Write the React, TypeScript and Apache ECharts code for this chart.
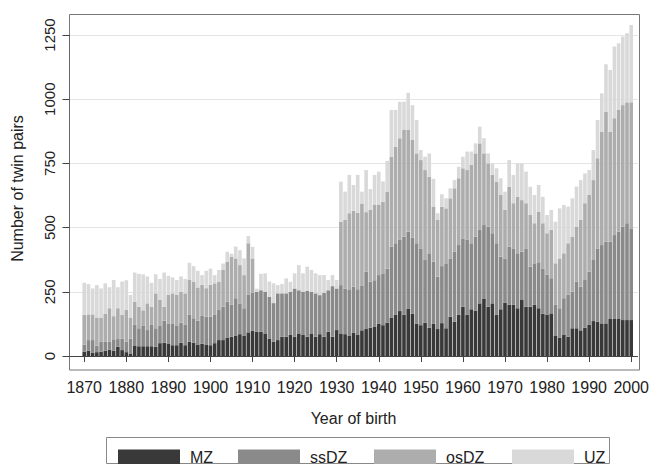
import React, { useEffect, useRef } from "react";
import * as echarts from "echarts";

const firstYear = 1870;
const lastYear = 2000;
const padBefore = 3;
const padAfter = 1;
const tickYears = [1870, 1880, 1890, 1900, 1910, 1920, 1930, 1940, 1950, 1960, 1970, 1980, 1990, 2000];
const yTicks = [0, 250, 500, 750, 1000, 1250];
const seriesNames = ["MZ", "ssDZ", "osDZ", "UZ"];
const seriesColors = ["#393939", "#8a8a8a", "#adadad", "#d9d9d9"];

const mz = [
  17, 20, 12, 15, 17, 20, 25, 20, 36, 23,
  15, 10, 39, 38, 38, 38, 38, 36, 50, 52,
  49, 42, 42, 52, 42, 55, 52, 45, 48, 45,
  42, 50, 62, 62, 72, 75, 80, 85, 78, 92,
  98, 95, 95, 88, 68, 56, 62, 75, 75, 82,
  75, 88, 82, 75, 88, 75, 85, 75, 95, 75,
  101, 88, 85, 78, 90, 82, 100, 105, 110, 115,
  125, 120, 130, 150, 160, 175, 160, 185, 165, 125,
  120, 130, 110, 125, 105, 128, 108, 153, 134, 160,
  192, 160, 182, 177, 205, 224, 192, 205, 160, 182,
  208, 199, 199, 186, 218, 192, 192, 199, 186, 165,
  160, 166, 78, 72, 84, 75, 108, 108, 100, 110,
  121, 136, 134, 127, 127, 144, 144, 144, 140, 140,
  140,
];

const ssdz = [
  28, 42, 50, 25, 38, 35, 30, 45, 30, 45,
  40, 58, 82, 70, 79, 63, 83, 72, 67, 86,
  78, 85, 75, 78, 79, 105, 95, 93, 108, 108,
  111, 110, 117, 130, 140, 124, 145, 120, 108, 146,
  149, 155, 161, 162, 163, 150, 182, 169, 169, 168,
  188, 168, 168, 178, 162, 169, 152, 171, 161, 197,
  162, 188, 178, 179, 180, 178, 175, 223, 180, 180,
  190, 202, 210, 276, 279, 277, 305, 299, 295, 314,
  299, 244, 290, 242, 204, 222, 253, 227, 272, 272,
  266, 292, 257, 288, 286, 286, 312, 273, 279, 205,
  172, 227, 220, 214, 188, 227, 156, 162, 179, 176,
  156, 137, 121, 114, 141, 163, 143, 182, 170, 186,
  208, 238, 285, 305, 318, 301, 327, 340, 364, 377,
  357,
];

const osdz = [
  115, 100, 100, 110, 93, 110, 131, 90, 120, 92,
  125, 82, 91, 84, 61, 104, 71, 136, 101, 54,
  111, 117, 121, 120, 123, 136, 143, 129, 121, 111,
  124, 123, 111, 143, 155, 188, 155, 149, 129, 201,
  133, 0, 0, 0, 0, 0, 0, 0, 0, 0,
  0, 0, 0, 0, 0, 0, 0, 0, 0, 0,
  0, 247, 267, 299, 295, 298, 319, 232, 280, 295,
  275, 278, 300, 350, 376, 396, 415, 396, 381, 350,
  344, 350, 298, 215, 221, 231, 214, 234, 247, 260,
  273, 272, 305, 324, 337, 279, 246, 227, 240, 240,
  189, 233, 176, 220, 201, 176, 201, 156, 197, 176,
  162, 188, 162, 194, 175, 201, 214, 214, 260, 299,
  298, 311, 351, 442, 507, 429, 455, 474, 473, 471,
  491,
];

const uz = [
  125, 118, 101, 126, 115, 118, 82, 141, 82, 130,
  115, 88, 113, 128, 140, 105, 93, 74, 82, 133,
  74, 62, 58, 60, 56, 67, 60, 65, 38, 68,
  63, 32, 45, 25, 39, 11, 46, 58, 65, 28,
  45, 12, 64, 72, 59, 77, 32, 36, 58, 39,
  59, 98, 72, 95, 85, 78, 78, 69, 40, 43,
  33, 156, 110, 149, 101, 147, 46, 164, 80, 115,
  128, 80, 120, 182, 143, 142, 110, 145, 136, 130,
  39, 52, 91, 108, 26, 49, 39, 39, 32, 45,
  45, 72, 52, 39, 65, 59, 39, 45, 52, 65,
  71, 104, 110, 130, 143, 123, 110, 110, 104, 103,
  71, 78, 162, 195, 188, 143, 149, 156, 155, 116,
  97, 117, 149, 149, 184, 240, 279, 260, 267, 269,
  301,
];

const FONT = "'Liberation Sans', Arial, Helvetica, sans-serif";

export default function App() {
  const ref = useRef<HTMLDivElement>(null);

  useEffect(() => {
    if (!ref.current) return;
    const chart = echarts.init(ref.current, null, { renderer: "svg" });

    const categories: string[] = [];
    for (let y = firstYear - padBefore; y <= lastYear + padAfter; y++) categories.push(String(y));
    const pad = (arr: number[]) => [
      ...Array(padBefore).fill(null),
      ...arr,
      ...Array(padAfter).fill(null),
    ];
    const allData = [mz, ssdz, osdz, uz];
    const isTick = (_i: number, v: string) => tickYears.includes(Number(v));

    const legendLefts = [113, 233, 369, 507];

    chart.setOption({
      animation: false,
      backgroundColor: "#ffffff",
      grid: { left: 69.5, right: 12, top: 35, bottom: 108, containLabel: false },
      xAxis: {
        type: "category",
        data: categories,
        offset: 14,
        axisLine: { show: true, lineStyle: { color: "#444", width: 1 } },
        axisTick: { show: true, alignWithLabel: true, interval: isTick, length: 6, lineStyle: { color: "#444" } },
        axisLabel: { interval: isTick, margin: 9, fontSize: 16, color: "#222", fontFamily: FONT },
        splitLine: { show: false },
        name: "Year of birth",
        nameLocation: "middle",
        nameGap: 40,
        nameTextStyle: { fontSize: 16, color: "#222", fontFamily: FONT },
      },
      yAxis: {
        type: "value",
        min: yTicks[0],
        max: yTicks[yTicks.length - 1],
        interval: 250,
        axisLine: { show: true, lineStyle: { color: "#666", width: 1 } },
        axisTick: { show: true, length: 7, lineStyle: { color: "#444" } },
        axisLabel: {
          rotate: 90,
          margin: 13,
          fontSize: 15,
          color: "#222",
          fontFamily: FONT,
          formatter: (v: number) => String(v),
        },
        splitLine: { show: true, lineStyle: { color: "#e4e4e4", width: 1 } },
        name: "Number of twin pairs",
        nameLocation: "middle",
        nameGap: 44,
        nameTextStyle: { fontSize: 16, color: "#222", fontFamily: FONT, padding: [0, 0, 0, 14] },
      },
      legend: seriesNames.map((n, i) => ({
        data: [n],
        left: legendLefts[i],
        top: 444,
        orient: "horizontal",
        icon: "rect",
        itemWidth: 62,
        itemHeight: 15,
        itemGap: 0,
        selectedMode: false,
        textStyle: { fontSize: 16, color: "#222", fontFamily: FONT, padding: [0, 0, 0, 5] },
      })),
      graphic: [
        {
          type: "rect",
          shape: { x: 69.5, y: 14.5, width: 570, height: 355.5 },
          style: { fill: "none", stroke: "#777", lineWidth: 1 },
          silent: true,
        },
        {
          type: "rect",
          shape: { x: 106.5, y: 437.5, width: 503, height: 26 },
          style: { fill: "none", stroke: "#888", lineWidth: 1 },
          silent: true,
        },
      ],
      series: seriesNames.map((n, i) => ({
        name: n,
        type: "bar",
        stack: "total",
        clip: false,
        barCategoryGap: "14%",
        itemStyle: { color: seriesColors[i] },
        emphasis: { disabled: true },
        data: pad(allData[i]),
      })),
    });

    return () => chart.dispose();
  }, []);

  return (
    <div
      ref={ref}
      style={{ position: "fixed", left: 0, top: 0, width: 652, height: 464 }}
    />
  );
}
